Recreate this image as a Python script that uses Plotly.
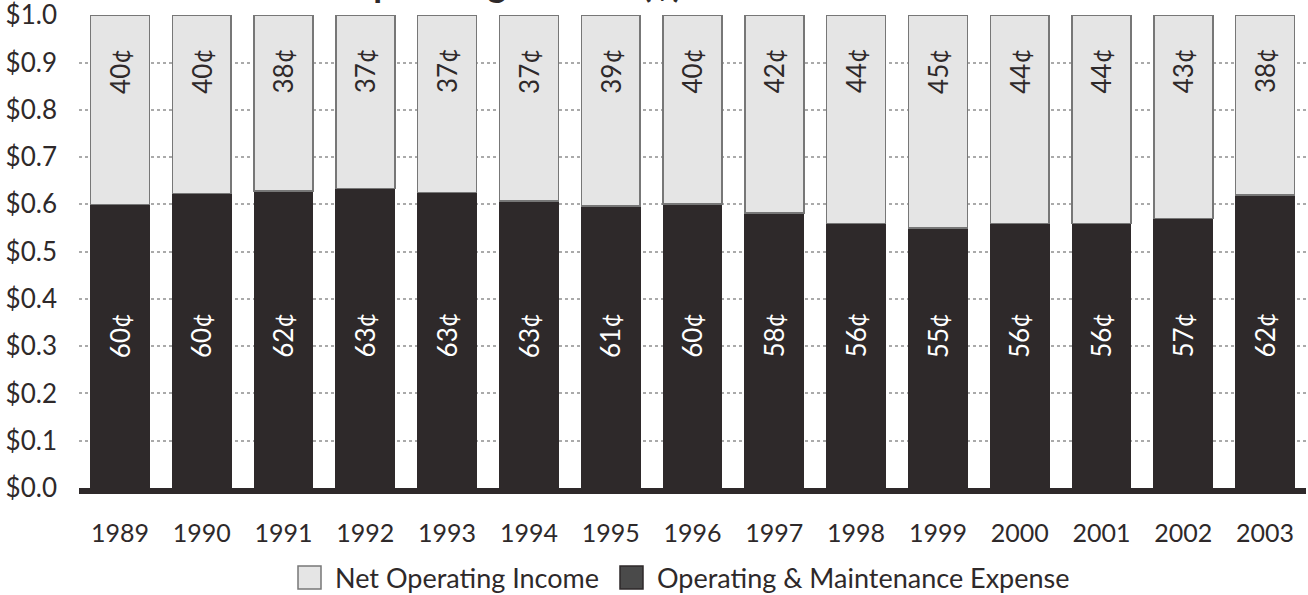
import plotly.graph_objects as go

years = ["1989", "1990", "1991", "1992", "1993", "1994", "1995", "1996",
         "1997", "1998", "1999", "2000", "2001", "2002", "2003"]
# bar heights (share of each operating revenue dollar)
om_expense = [0.600, 0.623, 0.628, 0.633, 0.625, 0.607, 0.596, 0.601,
              0.582, 0.560, 0.550, 0.560, 0.560, 0.570, 0.620]
net_income = [round(1.0 - v, 3) for v in om_expense]
# printed labels (cents)
om_labels = [60, 60, 62, 63, 63, 63, 61, 60, 58, 56, 55, 56, 56, 57, 62]
ni_labels = [40, 40, 38, 37, 37, 37, 39, 40, 42, 44, 45, 44, 44, 43, 38]
y_ticks = [0.0, 0.1, 0.2, 0.3, 0.4, 0.5, 0.6, 0.7, 0.8, 0.9, 1.0]
y_ticktext = ["$%.1f" % v for v in y_ticks]

DARK = "#2e292a"
LIGHT = "#e5e5e5"
EDGE = "#777777"
FONT = "Lato"

fig = go.Figure()
fig.add_trace(go.Bar(x=years, y=om_expense, name="Operating & Maintenance Expense",
                     marker=dict(color=DARK, line=dict(color=DARK, width=1)),
                     showlegend=False))
fig.add_trace(go.Bar(x=years, y=net_income, name="Net Operating Income",
                     marker=dict(color=LIGHT, line=dict(color=EDGE, width=1.5)),
                     showlegend=False))

annotations = []
for i, (a, b) in enumerate(zip(om_labels, ni_labels)):
    annotations.append(dict(x=i, y=0.323, xref="x", yref="y", text=f"{a}¢",
                            textangle=-90, showarrow=False,
                            font=dict(family=FONT, size=26, color="white")))
    annotations.append(dict(x=i, y=0.882, xref="x", yref="y", text=f"{b}¢",
                            textangle=-90, showarrow=False,
                            font=dict(family=FONT, size=26, color=DARK)))

PH = 473.0   # plot height in px
PW = 1227.0  # plot width in px
Y0 = 488.0   # pixel of y=0
X0 = 79.0    # pixel of plot left

# partially visible title at the very top
annotations.append(dict(x=(479 - X0) / PW, y=1, xref="paper", yref="paper",
                        xanchor="center", yanchor="bottom", yshift=8, showarrow=False,
                        text="<b>Net Operating Income (¢)</b>",
                        font=dict(family=FONT, size=36, color=DARK)))

# custom legend
legend_items = [("Net Operating Income", LIGHT, EDGE, 298, 333),
                ("Operating & Maintenance Expense", "#4a4a4a", DARK, 620, 655)]
shapes = []
for label, fill, edge, sx, tx in legend_items:
    shapes.append(dict(type="rect", xref="paper", yref="paper",
                       x0=(sx - X0) / PW, x1=(sx + 23 - X0) / PW,
                       y0=(Y0 - 589) / PH, y1=(Y0 - 566) / PH,
                       fillcolor=fill, line=dict(color=edge, width=1.5)))
    annotations.append(dict(x=(tx - X0) / PW, y=(Y0 - 577) / PH, xref="paper",
                            yref="paper", xanchor="left", yanchor="middle",
                            showarrow=False, text=label,
                            font=dict(family=FONT, size=27, color=DARK)))

fig.update_layout(
    width=1308, height=595,
    margin=dict(l=79, r=2, t=15, b=107, autoexpand=False),
    barmode="stack", bargap=0.28,
    plot_bgcolor="white", paper_bgcolor="white",
    font=dict(family=FONT, size=25, color=DARK),
    annotations=annotations, shapes=shapes,
    xaxis=dict(type="category", range=[-0.5, 14.5], showgrid=False, showline=True,
               linewidth=6, linecolor=DARK, ticks="", ticklabelstandoff=18,
               automargin=False,
               tickfont=dict(family=FONT, size=25, color=DARK)),
    yaxis=dict(range=[0, 1.0005], tickvals=y_ticks, ticktext=y_ticktext,
               showgrid=True, gridcolor="#aaaaaa", griddash="dot", gridwidth=2,
               zeroline=False, showline=False, ticks="", ticklabelstandoff=21,
               ticklabeloverflow="allow", automargin=False,
               tickfont=dict(family=FONT, size=26, color=DARK)),
)

fig.write_html("out.html", config={"displayModeBar": False},
               post_script="document.body.style.margin='0';document.body.style.overflow='hidden';")
